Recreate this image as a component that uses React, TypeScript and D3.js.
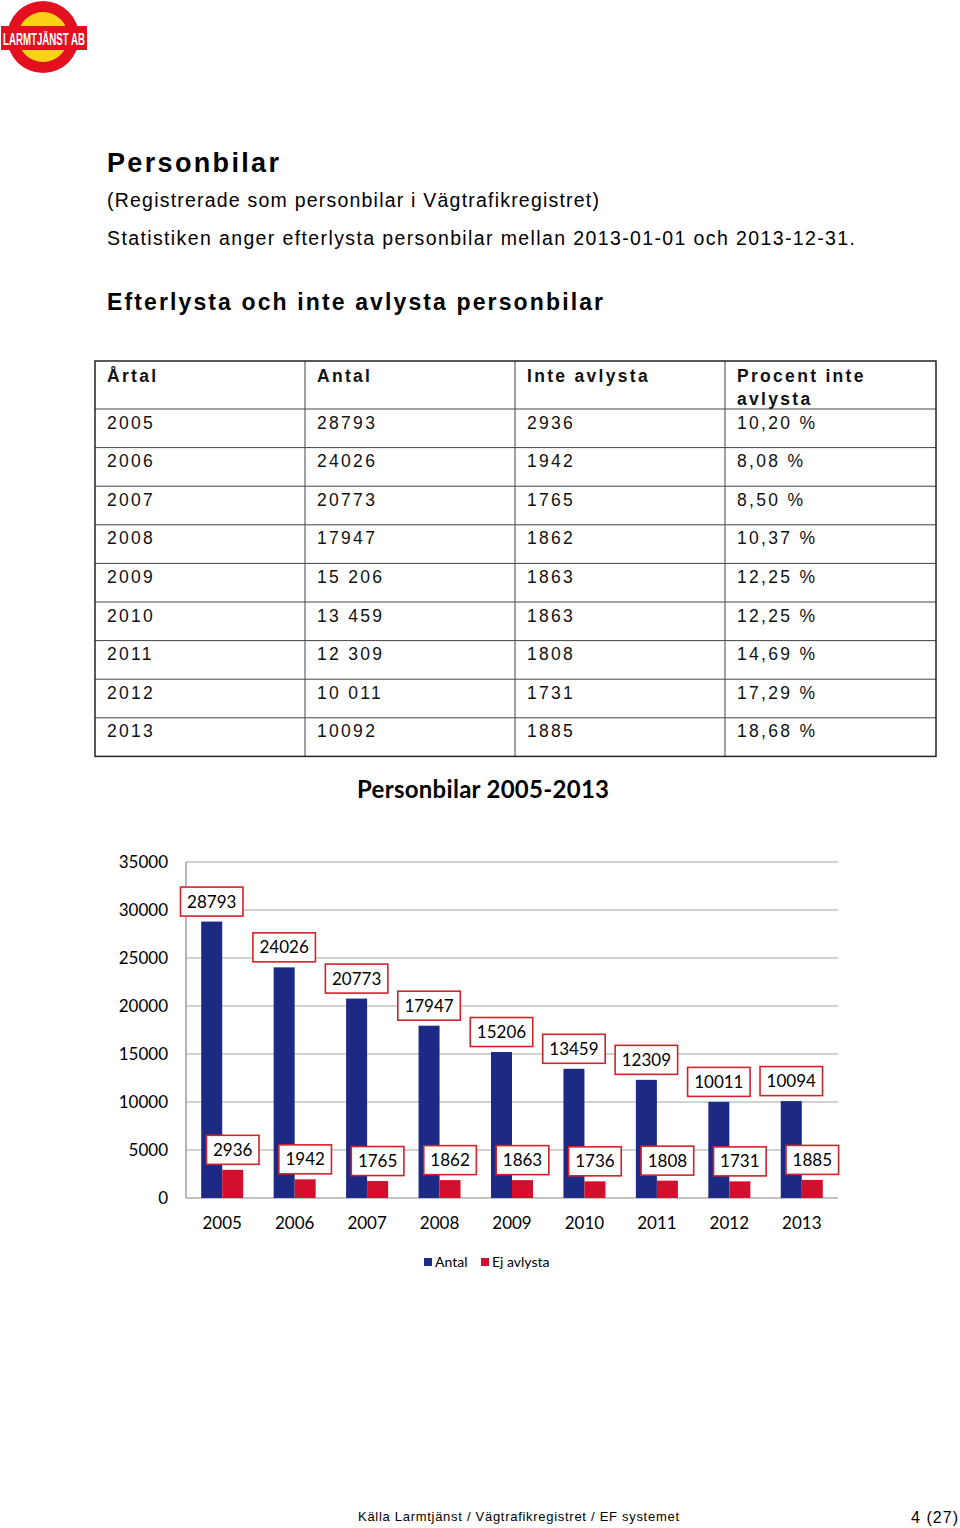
import * as d3 from "d3";
import React from "react";

// table data
const years = ["2005", "2006", "2007", "2008", "2009", "2010", "2011", "2012", "2013"];
const antalText = ["28793", "24026", "20773", "17947", "15 206", "13 459", "12 309", "10 011", "10092"];
const inteAvlystaText = ["2936", "1942", "1765", "1862", "1863", "1863", "1808", "1731", "1885"];
const procentText = ["10,20 %", "8,08 %", "8,50 %", "10,37 %", "12,25 %", "12,25 %", "14,69 %", "17,29 %", "18,68 %"];

// chart data
const antal = [28793, 24026, 20773, 17947, 15206, 13459, 12309, 10011, 10094];
const ejAvlysta = [2936, 1942, 1765, 1862, 1863, 1736, 1808, 1731, 1885];
const yTicks = [0, 5000, 10000, 15000, 20000, 25000, 30000, 35000];

const BLUE = "#1c2a85";
const RED = "#d20f2c";
const DOC_FONT = "'Liberation Sans', Arial, sans-serif";
const CHART_FONT = "Lato, 'Open Sans', sans-serif";

const margin = { top: 862, left: 186, right: 838, bottom: 1198 };

function Logo() {
  return (
    <g>
      <circle cx={43} cy={37} r={36} fill="#e3101f" />
      <circle cx={43} cy={37} r={25} fill="#fbd316" />
      <rect x={1} y={26} width={86} height={24} fill="#e3101f" />
      <text x={44} y={45} textAnchor="middle" fill="#fff" fontFamily="'Liberation Sans Narrow', 'Liberation Sans', sans-serif"
        fontWeight="bold" fontSize={17} textLength={82} lengthAdjust="spacingAndGlyphs">LARMTJÄNST AB</text>
    </g>
  );
}

function Table() {
  const x0 = 95, x1 = 936;
  const cols = [95, 305, 515, 725];
  const headerTop = 361, headerBottom = 409, rowH = 38.6;
  const rowLines = d3.range(years.length + 1).map(i => headerBottom + i * rowH);
  const bottom = rowLines[rowLines.length - 1];
  const rows = years.map((y, i) => [y, antalText[i], inteAvlystaText[i], procentText[i]]);
  const ts = { fontFamily: DOC_FONT, fontSize: 17.5, letterSpacing: 2.3, fill: "#111" } as const;
  return (
    <g>
      {rowLines.slice(0, -1).map((y, i) => (
        <line key={i} x1={x0} x2={x1} y1={y} y2={y} stroke="#444" strokeWidth={1} />
      ))}
      {cols.slice(1).map((x, i) => (
        <line key={i} x1={x} x2={x} y1={headerTop} y2={bottom} stroke="#444" strokeWidth={1} />
      ))}
      <rect x={x0} y={headerTop} width={x1 - x0} height={bottom - headerTop} fill="none" stroke="#222" strokeWidth={1.5} />
      <text x={cols[0] + 12} y={382} {...ts} fontWeight="bold">Årtal</text>
      <text x={cols[1] + 12} y={382} {...ts} fontWeight="bold">Antal</text>
      <text x={cols[2] + 12} y={382} {...ts} fontWeight="bold">Inte avlysta</text>
      <text x={cols[3] + 12} y={382} {...ts} fontWeight="bold">Procent inte</text>
      <text x={cols[3] + 12} y={405} {...ts} fontWeight="bold">avlysta</text>
      {rows.map((r, i) => r.map((c, j) => (
        <text key={i + "-" + j} x={cols[j] + 12} y={headerBottom + i * rowH + 19.5} {...ts}>{c}</text>
      )))}
    </g>
  );
}

function Chart() {
  const x = d3.scaleBand<string>().domain(years).range([margin.left, margin.right]).paddingInner(0.42).paddingOuter(0.21);
  const y = d3.scaleLinear().domain([0, 35000]).range([margin.bottom, margin.top]);
  const bw = x.bandwidth() / 2;
  const labelW = (v: number) => String(v).length * 9.9 + 13;
  const label = (cx: number, v: number, key: string) => {
    const cy = y(v) - 20;
    const w = labelW(v);
    return (
      <g key={key}>
        <rect x={cx - w / 2} y={cy - 14.5} width={w} height={29} fill="#fff" stroke="#d2232a" strokeWidth={1.6} />
        <text x={cx} y={cy + 6} textAnchor="middle" fontFamily={CHART_FONT} fontSize={17} fill="#000">{v}</text>
      </g>
    );
  };
  return (
    <g>
      <text x={483} y={798} textAnchor="middle" fontFamily={CHART_FONT} fontWeight="bold" fontSize={24} fill="#000" textLength={252} lengthAdjust="spacing">Personbilar 2005-2013</text>
      {yTicks.map(t => (
        <g key={t}>
          <line x1={margin.left} x2={margin.right} y1={y(t)} y2={y(t)} stroke={t === 0 ? "#888" : "#a6a6a6"} strokeWidth={1.2} />
          <text x={168} y={y(t) + 6} textAnchor="end" fontFamily={CHART_FONT} fontSize={17} fill="#000">{t}</text>
        </g>
      ))}
      <line x1={margin.left} x2={margin.left} y1={margin.top} y2={margin.bottom} stroke="#888" strokeWidth={1.2} />
      {years.map((yr, i) => {
        const bx = x(yr) as number;
        return (
          <g key={yr}>
            <rect x={bx} y={y(antal[i])} width={bw} height={y(0) - y(antal[i])} fill={BLUE} />
            <rect x={bx + bw} y={y(ejAvlysta[i])} width={bw} height={y(0) - y(ejAvlysta[i])} fill={RED} />
            <text x={bx + bw} y={1229} textAnchor="middle" fontFamily={CHART_FONT} fontSize={17} fill="#000">{yr}</text>
          </g>
        );
      })}
      {years.map((yr, i) => label((x(yr) as number) + bw / 2, antal[i], "a" + yr))}
      {years.map((yr, i) => label((x(yr) as number) + bw * 1.5, ejAvlysta[i], "e" + yr))}
      <rect x={424} y={1258} width={8} height={8} fill={BLUE} />
      <text x={435} y={1267} fontFamily={CHART_FONT} fontSize={14} fill="#000">Antal</text>
      <rect x={481} y={1258} width={8} height={8} fill={RED} />
      <text x={492} y={1267} fontFamily={CHART_FONT} fontSize={14} fill="#000">Ej avlysta</text>
    </g>
  );
}

export default function App() {
  return (
    <div style={{ position: "absolute", left: 0, top: 0 }}>
      <svg width={960} height={1528} style={{ display: "block", background: "#fff" }}>
        <Logo />
        <text x={107} y={172} fontFamily={DOC_FONT} fontWeight="bold" fontSize={27} fill="#000" textLength={172} lengthAdjust="spacing">Personbilar</text>
        <text x={107} y={207} fontFamily={DOC_FONT} fontSize={19.5} fill="#000" textLength={492} lengthAdjust="spacing">(Registrerade som personbilar i Vägtrafikregistret)</text>
        <text x={107} y={245} fontFamily={DOC_FONT} fontSize={19.5} fill="#000" textLength={748} lengthAdjust="spacing">Statistiken anger efterlysta personbilar mellan 2013-01-01 och 2013-12-31.</text>
        <text x={107} y={310} fontFamily={DOC_FONT} fontWeight="bold" fontSize={23} fill="#000" textLength={496} lengthAdjust="spacing">Efterlysta och inte avlysta personbilar</text>
        <Table />
        <Chart />
        <text x={358} y={1521} fontFamily={DOC_FONT} fontSize={13} fill="#000" textLength={321} lengthAdjust="spacing">Källa Larmtjänst / Vägtrafikregistret / EF systemet</text>
        <text x={911} y={1523} fontFamily={DOC_FONT} fontSize={16} fill="#000" textLength={47} lengthAdjust="spacing">4 (27)</text>
      </svg>
    </div>
  );
}
